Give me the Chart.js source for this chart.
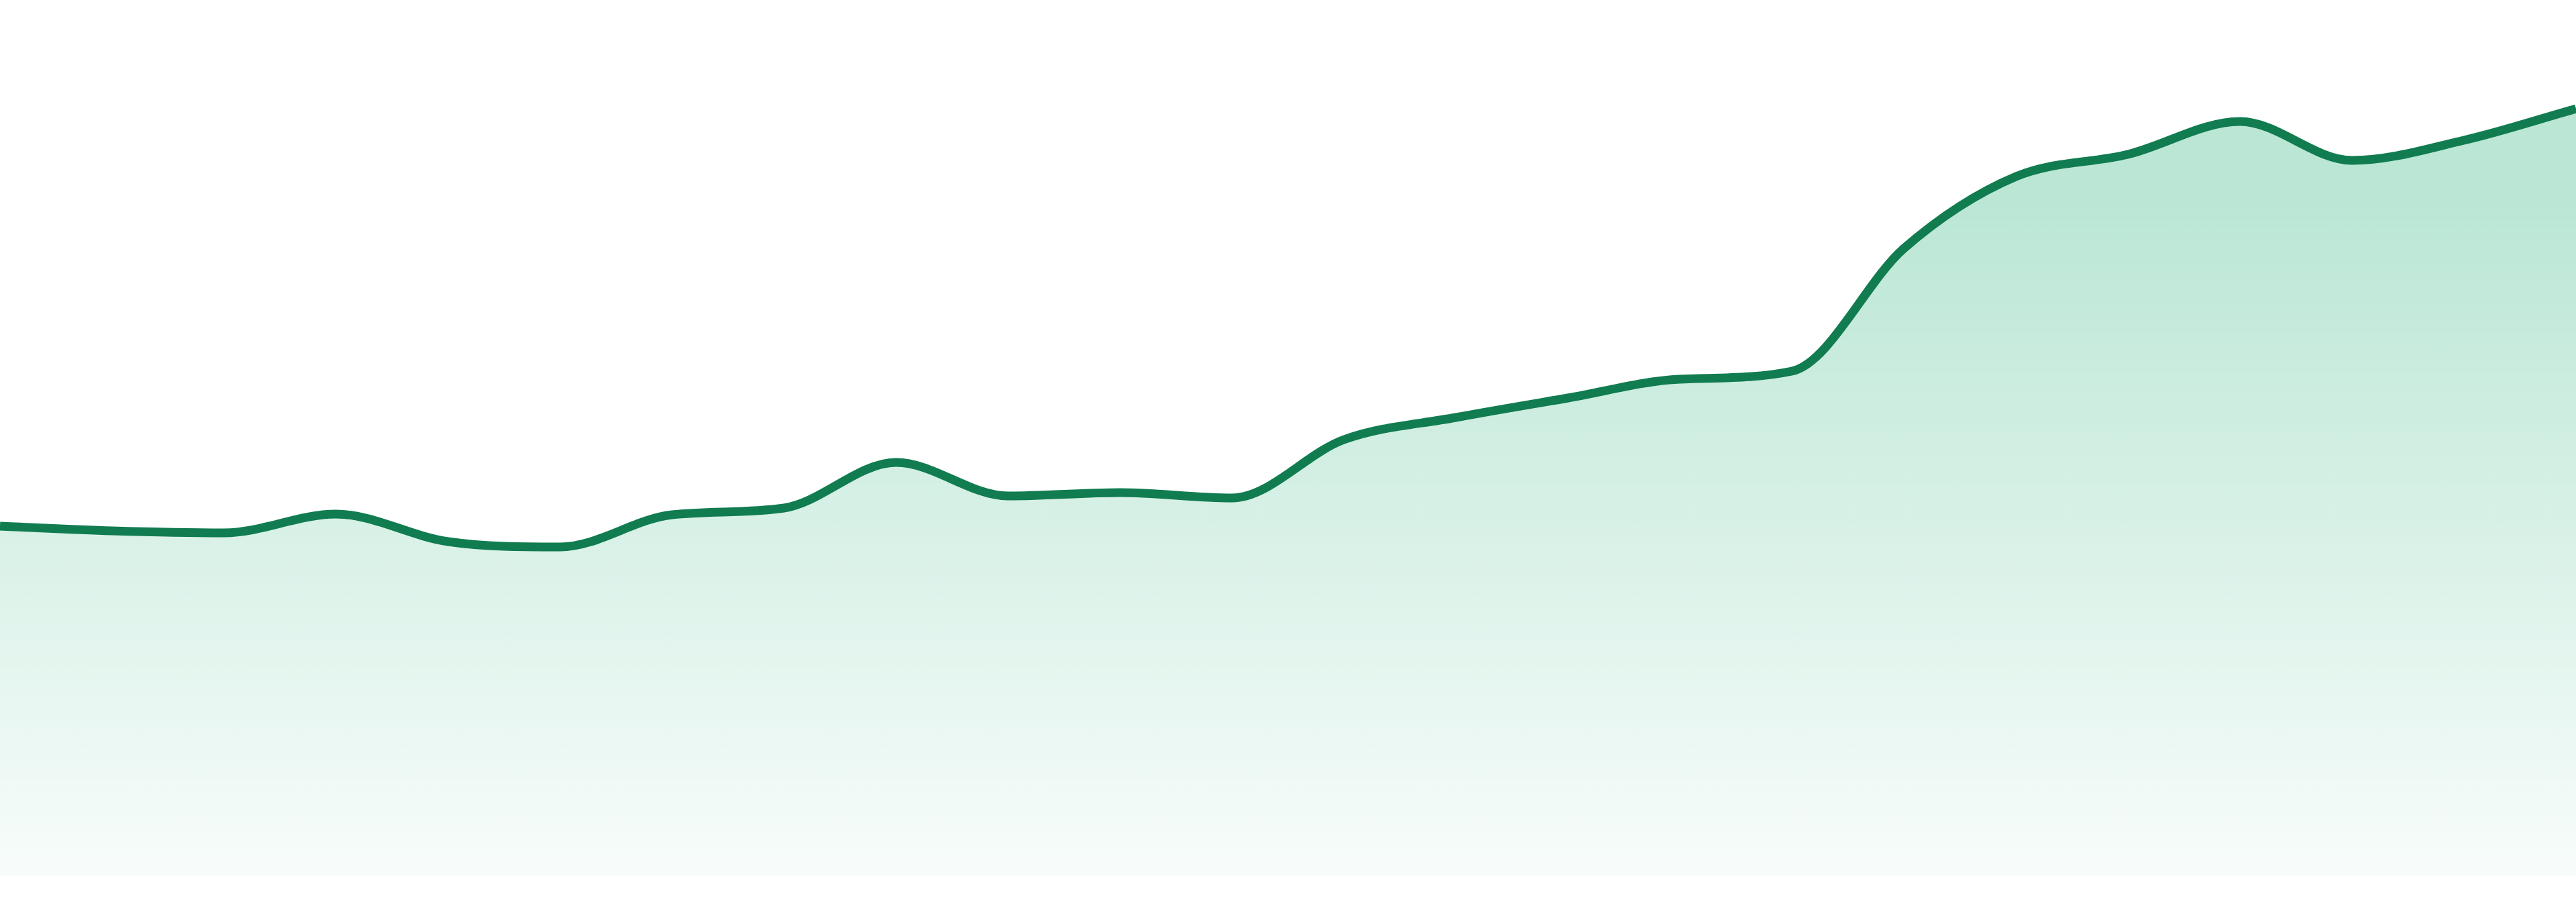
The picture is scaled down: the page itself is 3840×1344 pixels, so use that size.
<!DOCTYPE html>
<html>
<head>
<meta charset="utf-8">
<title>Area trend</title>
<script src="https://cdn.jsdelivr.net/npm/chart.js@4/dist/chart.umd.min.js"></script>
<style>
  html, body { margin: 0; padding: 0; background: #fff; overflow: hidden; }
  #wrap { width: 100vw; height: 100vh; position: relative; }
</style>
</head>
<body>
<div id="wrap"><canvas id="trendChart"></canvas></div>
<script>
// 24 evenly spaced samples, no axis labels shown in the original
var labels = ['1', '2', '3', '4', '5', '6', '7', '8', '9', '10', '11', '12',
              '13', '14', '15', '16', '17', '18', '19', '20', '21', '22', '23', '24']
var values = [52.1, 51.4, 51.1, 53.9, 49.8, 49.0, 53.8, 54.8, 61.6, 56.6, 57.1, 56.3,
              65.0, 68.3, 71.2, 74.0, 75.2, 93.5, 104.2, 107.5, 112.4, 106.6, 109.6, 114.3]
var yMin = 0
var yMax = 130

var lineColor = 'rgb(17, 124, 80)'

function areaGradient(context) {
  var chart = context.chart
  var area = chart.chartArea
  if (!area) return 'rgba(20, 170, 110, 0.2)'
  // colour stays flat near the top, then fades out towards the bottom
  var top = area.top + (area.bottom - area.top) * 0.23
  var g = chart.ctx.createLinearGradient(0, top, 0, area.bottom)
  g.addColorStop(0, 'rgba(20, 170, 110, 0.29)')
  g.addColorStop(1, 'rgba(20, 170, 110, 0.03)')
  return g
}

var ctx = document.getElementById('trendChart').getContext('2d')
var trendChart = new Chart(ctx, {
  type: 'line',
  data: {
    labels: labels,
    datasets: [{
      data: values,
      borderColor: lineColor,
      borderWidth: 13,
      backgroundColor: areaGradient,
      fill: 'start',
      cubicInterpolationMode: 'monotone',
      pointRadius: 0,
      pointHoverRadius: 0
    }]
  },
  options: {
    responsive: true,
    maintainAspectRatio: false,
    animation: false,
    layout: { padding: { top: 5, bottom: 39, left: 0, right: 0 } },
    plugins: { legend: { display: false }, tooltip: { enabled: false } },
    scales: {
      x: { display: false, offset: false },
      y: { display: false, min: yMin, max: yMax }
    }
  }
})
</script>
</body>
</html>
